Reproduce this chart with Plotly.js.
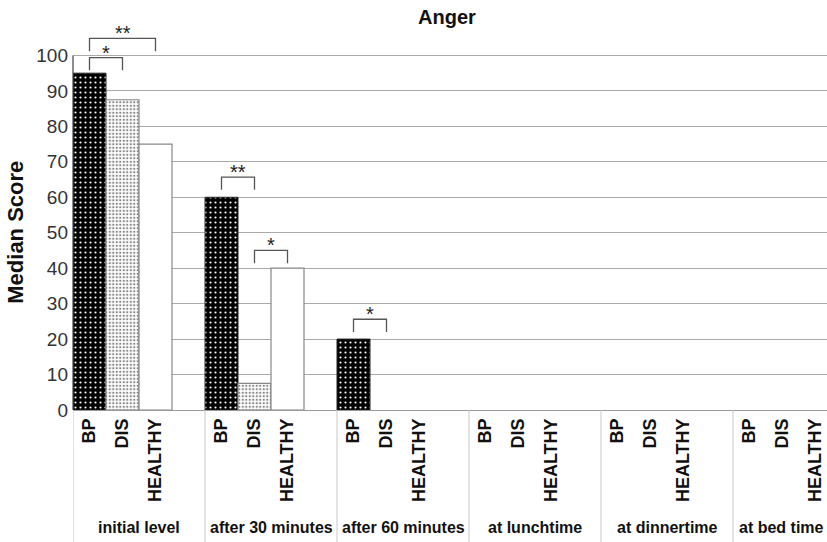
<!DOCTYPE html>
<html>
<head>
<meta charset="utf-8">
<script src="https://cdn.plot.ly/plotly-3.0.1.min.js"></script>
<style>html,body{margin:0;padding:0;background:#fff;}#chart{width:827px;height:542px;}</style>
</head>
<body>
<div id="chart"></div>
<script>
// ---- data ----
const groups = ["initial level", "after 30 minutes", "after 60 minutes", "at lunchtime", "at dinnertime", "at bed time"];
const subgroups = ["BP", "DIS", "HEALTHY"];
const bp = [95, 60, 20, null, null, null];
const dis = [87.5, 7.5, null, null, null, null];
const healthy = [75, 40, null, null, null, null];
const yTicks = [0, 10, 20, 30, 40, 50, 60, 70, 80, 90, 100];
// significance brackets
const bracketGroup = [0, 0, 1, 1, 2];
const bracketFrom = [0, 0, 0, 1, 0];
const bracketTo = [1, 2, 1, 2, 1];
const bracketTop = [99.4, 104.8, 65.7, 45, 25.6];
const bracketLabel = ["*", "**", "**", "*", "*"];

// ---- layout helpers ----
const SLOTS = 4;           // 3 bars + 1 empty slot per group
const FONT = "Liberation Sans, Arial, sans-serif";
const W = 827, H = 542, ML = 73, MR = 0, MT = 20, MB = 132;
const slotPx = 33;
const plotW = W - ML - MR, plotH = H - MT - MB;
const pos = (g, b) => SLOTS * g + b;
const xMax = -0.5 + plotW / slotPx;

const series = [bp, dis, healthy];
const styles = [
  {color: "#000", pattern: {shape: ".", bgcolor: "#000", fgcolor: "#fff", size: 5, solidity: 0.15}, line: {color: "#222", width: 1}},
  {color: "#fff", pattern: {shape: ".", bgcolor: "#fff", fgcolor: "#888", size: 3.5, solidity: 0.35}, line: {color: "#888", width: 1.2}},
  {color: "#fff", line: {color: "#888", width: 1.2}}
];

const traces = series.map((vals, b) => ({
  type: "bar",
  name: subgroups[b],
  x: groups.map((_, g) => pos(g, b)),
  y: vals,
  width: 1,
  marker: styles[b],
  hoverinfo: "skip"
}));

const tickvals = [], ticktext = [];
groups.forEach((_, g) => subgroups.forEach((s, b) => { tickvals.push(pos(g, b)); ticktext.push(s); }));

const shapes = [];
// y axis line up to 100
shapes.push({type: "line", xref: "paper", yref: "y", x0: 0, x1: 0, y0: 0, y1: yTicks[yTicks.length - 1], line: {color: "#444", width: 1.2}});
// group dividers below the axis
groups.forEach((_, g) => {
  shapes.push({type: "line", xref: "x", yref: "paper", x0: pos(g, -0.5), x1: pos(g, -0.5), y0: -MB / plotH, y1: 0, line: {color: "#c8c8c8", width: 1}});
});
const annotations = [];
// brackets
bracketTop.forEach((top, i) => {
  const x0 = pos(bracketGroup[i], bracketFrom[i]);
  const x1 = pos(bracketGroup[i], bracketTo[i]);
  const low = top - 3.6;
  shapes.push({type: "path", xref: "x", yref: "y", path: `M ${x0},${low} L ${x0},${top} L ${x1},${top} L ${x1},${low}`, line: {color: "#555", width: 1.3}});
  annotations.push({xref: "x", yref: "y", x: (x0 + x1) / 2, y: top, yanchor: "bottom", yshift: -8, showarrow: false, text: bracketLabel[i], font: {family: FONT, size: 20, color: "#222"}});
});
// group labels (the last one is cut by the chart edge, so it is left-aligned inside its group)
const labelY = -(527 - (MT + plotH)) / plotH;
groups.forEach((name, g) => {
  const last = g === groups.length - 1 && pos(g, 1.5) + 1.6 > xMax;
  annotations.push({xref: "x", yref: "paper", x: last ? pos(g, -0.5) : pos(g, 1.5), xanchor: last ? "left" : "center", xshift: last ? 4 : 0, y: labelY, yanchor: "middle", showarrow: false, text: name, font: {family: FONT, size: 16, color: "#111", weight: "bold"}});
});
// y axis title
annotations.push({xref: "paper", yref: "y", x: (16 - ML) / plotW, y: 50, xanchor: "center", yanchor: "middle", textangle: -90, showarrow: false, text: "Median Score", font: {family: FONT, size: 22, color: "#111", weight: "bold"}});

const layout = {
  width: W, height: H,
  margin: {l: ML, r: MR, t: MT, b: MB, pad: 0},
  paper_bgcolor: "#fff", plot_bgcolor: "#fff",
  showlegend: false,
  barmode: "overlay",
  title: {text: "Anger", font: {family: FONT, size: 20, color: "#111", weight: "bold"}, x: (447 - ML) / plotW, xref: "paper", xanchor: "center", y: 1 - 17 / H, yref: "container", yanchor: "middle"},
  xaxis: {
    range: [-0.5, xMax],
    tickvals: tickvals, ticktext: ticktext, tickangle: -90,
    tickfont: {family: FONT, size: 18, color: "#111", weight: "bold"},
    showgrid: false, zeroline: false, showline: true, linecolor: "#999", linewidth: 1.2, ticks: "",
    fixedrange: true
  },
  yaxis: {
    range: [0, 110], tickvals: yTicks,
    tickfont: {family: FONT, size: 19, color: "#333"},
    ticklabelstandoff: 4,
    showgrid: true, gridcolor: "#aaa", gridwidth: 1,
    zeroline: false, showline: false, ticks: "",
    fixedrange: true
  },
  shapes: shapes,
  annotations: annotations
};

Plotly.newPlot("chart", traces, layout, {staticPlot: true, displayModeBar: false});
</script>
</body>
</html>
